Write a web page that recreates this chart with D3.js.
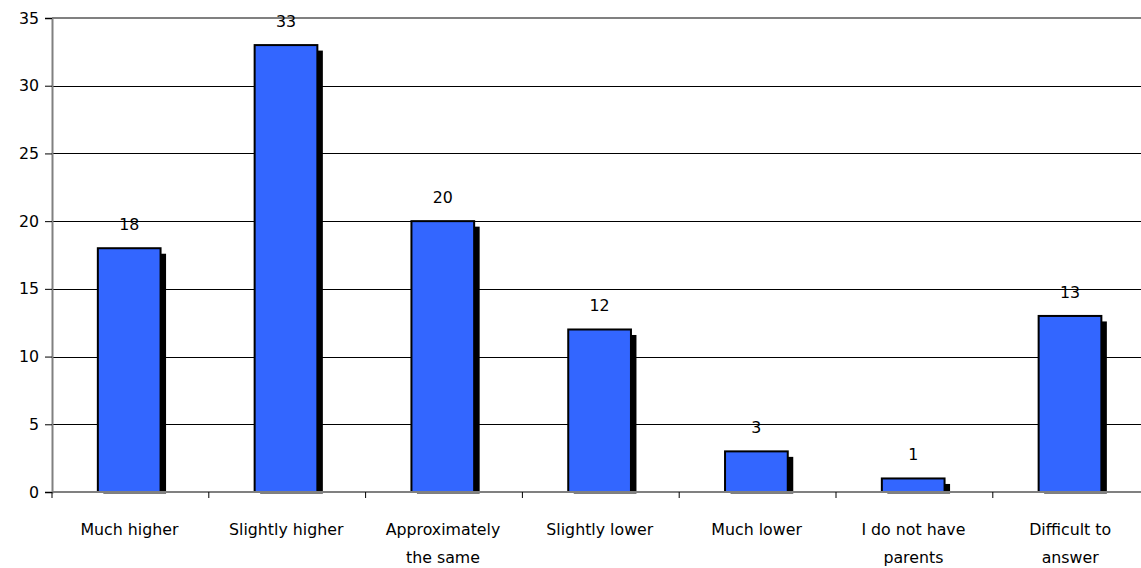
<!DOCTYPE html>
<html><head><meta charset="utf-8">
<script src="https://cdn.jsdelivr.net/npm/d3@7"></script>
<style>body{margin:0;background:#fff}svg{display:block}text{font-family:"DejaVu Sans",sans-serif;fill:#000}</style>
</head><body><svg id="c" width="1141" height="568"></svg>
<script>
const categories = [["Much higher"],["Slightly higher"],["Approximately","the same"],["Slightly lower"],["Much lower"],["I do not have","parents"],["Difficult to","answer"]];
const values = [18,33,20,12,3,1,13];
const yTicks = [0,5,10,15,20,25,30,35];

(function(){
const svg = d3.select("#c");
const pL = 52, pR = 1149.6, pT = 18, pB = 492;
const fs = 15.8;
const x = d3.scaleBand().domain(d3.range(categories.length)).range([pL, pR]).paddingInner(0.6).paddingOuter(0.3);
const xc = d3.scaleBand().domain(d3.range(categories.length)).range([pL, pR]);
const y = d3.scaleLinear().domain([0,35]).range([pB, pT]);
const bx = i => x(i) - 1.2;

// gridlines
svg.append("g").selectAll("line").data(yTicks.filter(t=>t>0 && t<35)).join("line")
  .attr("x1", pL).attr("x2", pR).attr("y1", d=>Math.round(y(d))+0.5).attr("y2", d=>Math.round(y(d))+0.5)
  .attr("stroke", "#000").attr("stroke-width", 1);
// top border
svg.append("line").attr("x1", pL).attr("x2", pR).attr("y1", y(35)).attr("y2", y(35))
  .attr("stroke", "#808080").attr("stroke-width", 2);

// y axis
const ya = svg.append("g").attr("transform", `translate(${pL},0)`)
  .call(d3.axisLeft(y).tickValues(yTicks).tickSize(7).tickPadding(6));
ya.select(".domain").attr("stroke", "#808080").attr("stroke-width", 2);
ya.selectAll(".tick line").attr("stroke", "#000");
ya.selectAll("text").attr("font-size", fs).attr("font-family", "DejaVu Sans");

// shadows
const sh = 5.5;
svg.append("g").selectAll("rect").data(values).join("rect")
  .attr("x", (d,i)=>bx(i)+sh).attr("y", d=>y(d)+sh)
  .attr("width", x.bandwidth()).attr("height", d=>pB + 1.5 - y(d) - sh)
  .attr("fill", "#000");
// bars
svg.append("g").selectAll("rect").data(values).join("rect")
  .attr("x", (d,i)=>bx(i)).attr("y", d=>y(d))
  .attr("width", x.bandwidth()).attr("height", d=>pB - y(d))
  .attr("fill", "#3366FF").attr("stroke", "#000").attr("stroke-width", 2);

// x axis
const xa = svg.append("g").attr("transform", `translate(0,${pB})`);
xa.append("line").attr("x1", pL).attr("x2", pR).attr("stroke", "#808080").attr("stroke-width", 2);
xa.selectAll(".xt").data(d3.range(categories.length+1)).join("line")
  .attr("x1", i=>pL + i*xc.step()).attr("x2", i=>pL + i*xc.step())
  .attr("y1", 0).attr("y2", 6).attr("stroke", "#000");

// value labels
svg.append("g").selectAll("text").data(values).join("text")
  .attr("x", (d,i)=>bx(i)+x.bandwidth()/2).attr("y", d=>y(d)-18)
  .attr("text-anchor", "middle").attr("font-size", fs).text(d=>d);

// category labels
const cl = svg.append("g").selectAll("text").data(categories).join("text")
  .attr("text-anchor", "middle").attr("font-size", fs)
  .attr("transform", (d,i)=>`translate(${xc(i)+xc.bandwidth()/2 - 1},535)`);
cl.selectAll("tspan").data(d=>d).join("tspan")
  .attr("x", 0).attr("dy", (d,j)=>j===0?0:28).text(d=>d);
})();
</script></body></html>
